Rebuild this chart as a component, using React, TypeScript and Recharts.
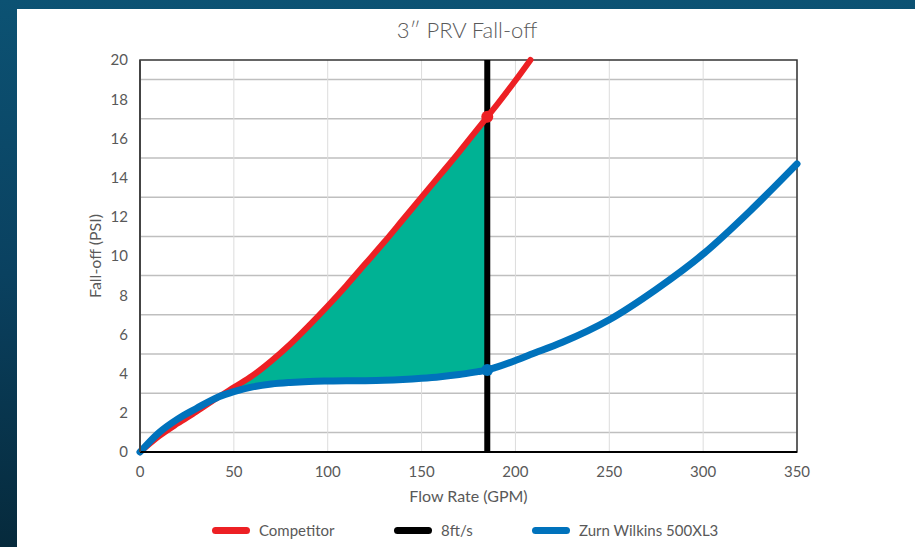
import {
  ComposedChart,
  Line,
  Area,
  XAxis,
  YAxis,
  CartesianGrid,
  ReferenceLine,
  ReferenceDot,
  ReferenceArea,
} from "recharts";

// values
const flowRates = [
  0, 10, 20, 30, 42, 50, 60, 70, 80, 90, 100, 110, 120, 130, 140, 150, 160, 170,
  180, 185, 190, 200, 208, 225, 250, 275, 300, 325, 350,
];
const competitor: (number | null)[] = [
  0, 0.8, 1.45, 2.05, 2.82, 3.3, 3.9, 4.65, 5.5, 6.45, 7.45, 8.5, 9.6, 10.7,
  11.85, 13.0, 14.15, 15.3, 16.5, 17.1, 17.7, 18.95, 20, null, null, null, null,
  null, null,
];
const zurn = [
  0, 0.98, 1.68, 2.22, 2.82, 3.08, 3.32, 3.47, 3.55, 3.6, 3.62, 3.63, 3.64,
  3.66, 3.7, 3.76, 3.84, 3.95, 4.1, 4.18, 4.33, 4.67, 4.97, 5.6, 6.75, 8.3,
  10.1, 12.3, 14.7,
];
const velocityLimit = 185; // 8 ft/s
const bandStart = 42;
const xTicks = [0, 50, 100, 150, 200, 250, 300, 350];
const yTicks = [0, 2, 4, 6, 8, 10, 12, 14, 16, 18, 20];
const minorY = [1, 2, 3, 4, 5, 6, 7, 8, 9, 10, 11, 12, 13, 14, 15, 16, 17, 18, 19];

const RED = "#ed2024";
const BLUE = "#0072bc";
const GREEN = "#00b294";
const FONT = "Lato, 'Open Sans', sans-serif";
const TXT = "#595959";

const chartData = flowRates.map((x, i) => ({
  flow: x,
  competitor: competitor[i],
  zurn: zurn[i],
  band:
    x >= bandStart && x <= velocityLimit && competitor[i] != null
      ? [zurn[i], competitor[i]]
      : null,
}));

const limitIdx = flowRates.indexOf(velocityLimit);

const legendItems = [
  { name: "Competitor", color: RED, left: 195 },
  { name: "8ft/s", color: "#000", left: 377 },
  { name: "Zurn Wilkins 500XL3", color: BLUE, left: 515 },
];

export default function App() {
  return (
    <div
      style={{
        position: "absolute",
        left: 0,
        top: 0,
        width: 915,
        height: 547,
        overflow: "hidden",
        background: "linear-gradient(180deg, #0c5273 0%, #0a4160 50%, #062a3c 100%)",
        fontFamily: FONT,
      }}
    >
      <div
        style={{
          position: "absolute",
          left: 17,
          top: 9,
          width: 898,
          height: 538,
          background: "#fff",
        }}
      >
        <div
          style={{
            position: "absolute",
            top: 7,
            left: 0,
            width: 900,
            textAlign: "center",
            fontSize: 22,
            fontWeight: 300,
            color: TXT,
          }}
        >
          3″ PRV Fall-off
        </div>
        <ComposedChart
          width={898}
          height={538}
          data={chartData}
          margin={{ top: 51, right: 118, left: 63, bottom: 65 }}
          style={{ position: "absolute", left: 0, top: 0 }}
        >
          <CartesianGrid
            vertical={false}
            stroke="#bfbfbf"
            strokeWidth={1.5}
            horizontalValues={minorY}
          />
          <CartesianGrid horizontal={false} stroke="#dcdcdc" verticalValues={xTicks} />
          <XAxis
            dataKey="flow"
            type="number"
            domain={[0, 350]}
            ticks={xTicks}
            height={30}
            tickLine={false}
            tickSize={6}
            tickMargin={8}
            axisLine={{ stroke: "#000", strokeWidth: 2 }}
            tick={{ fill: TXT, fontSize: 15, fontFamily: FONT }}
            label={{
              value: "Flow Rate (GPM)",
              position: "bottom",
              offset: 9,
              fill: TXT,
              fontSize: 16,
              fontFamily: FONT,
            }}
          />
          <YAxis
            type="number"
            domain={[0, 20]}
            ticks={yTicks}
            width={60}
            tickLine={false}
            tickSize={0}
            tickMargin={12}
            axisLine={{ stroke: "#444", strokeWidth: 2 }}
            tick={{ fill: TXT, fontSize: 15, fontFamily: FONT }}
            label={{
              value: "Fall-off (PSI)",
              angle: -90,
              position: "insideLeft",
              offset: 15,
              fill: TXT,
              fontSize: 16,
              fontFamily: FONT,
              style: { textAnchor: "middle" },
            }}
          />
          <ReferenceArea
            x1={0}
            x2={350}
            y1={0}
            y2={20}
            fill="none"
            stroke="#333"
            strokeWidth={1.5}
          />
          <Area
            dataKey="band"
            type="monotone"
            stroke="none"
            fill={GREEN}
            fillOpacity={1}
            connectNulls={false}
            isAnimationActive={false}
          />
          <ReferenceLine
            x={velocityLimit}
            stroke="#000"
            strokeWidth={6}
            ifOverflow="extendDomain"
          />
          <Line
            dataKey="competitor"
            type="monotone"
            stroke={RED}
            strokeWidth={6}
            strokeLinecap="round"
            dot={false}
            isAnimationActive={false}
          />
          <Line
            dataKey="zurn"
            type="monotone"
            stroke={BLUE}
            strokeWidth={7}
            strokeLinecap="round"
            dot={false}
            isAnimationActive={false}
          />
          <ReferenceDot
            x={velocityLimit}
            y={competitor[limitIdx] as number}
            r={6}
            fill={RED}
            stroke="none"
          />
          <ReferenceDot
            x={velocityLimit}
            y={zurn[limitIdx]}
            r={6}
            fill={BLUE}
            stroke="none"
          />
        </ComposedChart>
        {legendItems.map((item) => (
          <div
            key={item.name}
            style={{
              position: "absolute",
              top: 512,
              left: item.left,
              display: "flex",
              alignItems: "center",
              fontSize: 15,
              color: TXT,
            }}
          >
            <span
              style={{
                display: "inline-block",
                width: 38,
                height: 7,
                borderRadius: 4,
                background: item.color,
                marginRight: 9,
              }}
            />
            {item.name}
          </div>
        ))}
      </div>
    </div>
  );
}
